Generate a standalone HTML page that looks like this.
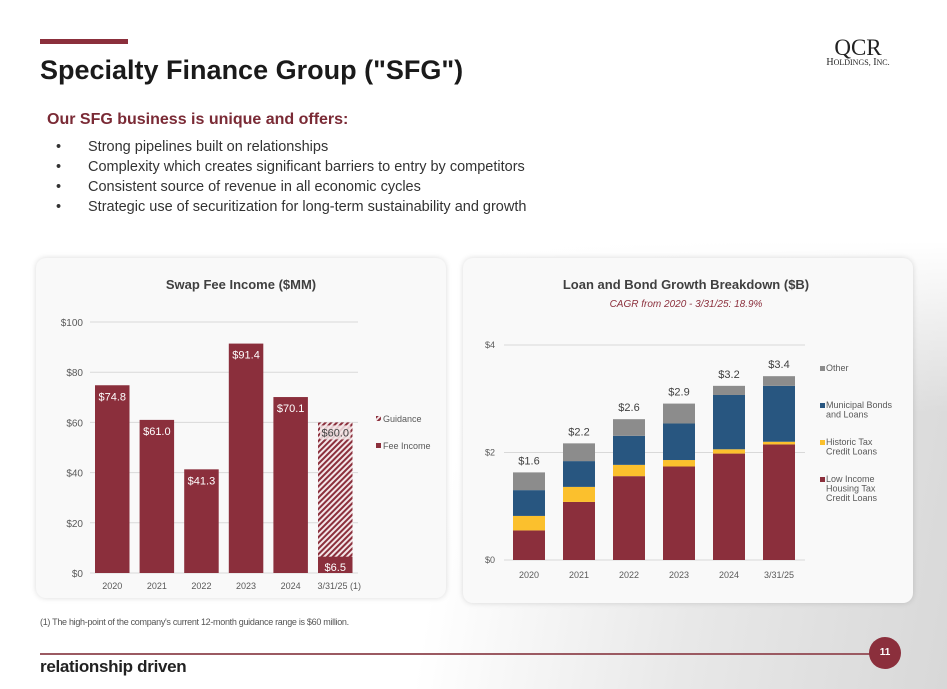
<!DOCTYPE html>
<html><head><meta charset="utf-8">
<style>
html,body{margin:0;padding:0}
body{width:947px;height:689px;position:relative;overflow:hidden;font-family:"Liberation Sans",sans-serif;background:#fff}
.bg{position:absolute;left:0;top:0;width:947px;height:689px;background:linear-gradient(180deg,rgba(255,255,255,1) 0%,rgba(255,255,255,1) 35%,rgba(255,255,255,0) 60%),linear-gradient(100deg,#fff 0%,#fff 50%,#e8e8e8 75%,#d8d8d8 100%)}
.abs{position:absolute}
.card{position:absolute;background:#f9f9f9;border-radius:10px;box-shadow:0 0 6px rgba(0,0,0,0.15)}
</style></head><body>
<div class="bg"></div>
<div class="abs" style="left:40px;top:39px;width:88px;height:5px;background:#8b2f3c"></div>
<div class="abs" style="left:40px;top:55px;font-size:27px;font-weight:bold;color:#1a1a1a">Specialty Finance Group ("SFG")</div>
<div class="abs" style="left:815px;top:37px;width:86px;text-align:center;font-family:'Liberation Serif',serif;color:#222">
<div style="font-size:23px;line-height:21px">QCR</div>
<div style="font-size:10px;line-height:10px;white-space:nowrap">H<span style="font-size:8px">OLDINGS,</span> I<span style="font-size:8px">NC.</span></div></div>
<div class="abs" style="left:47px;top:111px;font-size:16px;font-weight:bold;color:#7a2a35">Our SFG business is unique and offers:</div>
<div class="abs" style="left:56px;top:137px;font-size:14.5px;line-height:20px;color:#333">
<div>•<span style="position:absolute;left:32px;white-space:nowrap">Strong pipelines built on relationships</span></div>
<div>•<span style="position:absolute;left:32px;white-space:nowrap">Complexity which creates significant barriers to entry by competitors</span></div>
<div>•<span style="position:absolute;left:32px;white-space:nowrap">Consistent source of revenue in all economic cycles</span></div>
<div>•<span style="position:absolute;left:32px;white-space:nowrap">Strategic use of securitization for long-term sustainability and growth</span></div>
</div>
<div class="card" style="left:36px;top:258px;width:410px;height:340px"></div>
<div class="card" style="left:463px;top:258px;width:450px;height:345px"></div>
<svg class="abs" style="left:0;top:0" width="947" height="689">
<defs><pattern id="hatch" width="4" height="4" patternUnits="userSpaceOnUse" patternTransform="rotate(45)"><rect width="4" height="4" fill="#f3e6e8"/><rect width="2" height="4" fill="#8b2f3c"/></pattern></defs>
<g id="c1"></g><g id="c2"></g>
</svg>
<div class="abs" style="left:40px;top:617px;font-size:9px;color:#555;letter-spacing:-0.3px">(1) The high-point of the company's current 12-month guidance range is $60 million.</div>
<div class="abs" style="left:40px;top:653px;width:830px;height:2px;background:#9b5a62"></div>
<div class="abs" style="left:869px;top:637px;width:32px;height:32px;border-radius:50%;background:#8b2f3c;color:#fff;font-size:10px;font-weight:bold;text-align:center;line-height:32px">11</div>
<div class="abs" style="left:40px;top:657px;font-size:17px;font-weight:bold;color:#222;letter-spacing:-0.3px">relationship driven</div>
<script>
const NS='http://www.w3.org/2000/svg';
function mk(p,t,a,txt){const e=document.createElementNS(NS,t);for(const k in a)e.setAttribute(k,a[k]);if(txt!==undefined)e.textContent=txt;p.appendChild(e);return e;}
// Chart 1 data
const c1Cats=['2020','2021','2022','2023','2024','3/31/25 (1)'];
const c1Fee=[74.8,61.0,41.3,91.4,70.1,6.5];
const c1Guid=[0,0,0,0,0,60.0];
const c1Ticks=[0,20,40,60,80,100];
// Chart 2 data
const c2Cats=['2020','2021','2022','2023','2024','3/31/25'];
const c2Lihtc=[0.55,1.08,1.56,1.74,1.98,2.15];
const c2Htc=[0.27,0.28,0.21,0.12,0.08,0.05];
const c2Muni=[0.48,0.48,0.54,0.68,1.01,1.04];
const c2Other=[0.33,0.33,0.31,0.37,0.17,0.18];
const c2Totals=['$1.6','$2.2','$2.6','$2.9','$3.2','$3.4'];
const c2Ticks=[0,2,4];

const g1=document.getElementById('c1');
let t=mk(g1,'text',{x:241,y:289,'text-anchor':'middle','font-size':13,'font-weight':'bold',fill:'#404040'},'Swap Fee Income ($MM)');

const y1=v=>573-v*2.51, x1=i=>95+i*44.6, bw1=34.5;
c1Ticks.forEach(v=>{
 let l=mk(g1,'line',{x1:90,x2:358,y1:y1(v),y2:y1(v),stroke:'#d9d9d9'});
 
 let tx=mk(g1,'text',{x:83,y:y1(v)+4,'text-anchor':'end','font-size':10,fill:'#595959'},'$'+v);
 
});
c1Cats.forEach((c,i)=>{
 if(c1Guid[i]>0){
  let r=mk(g1,'rect',{x:x1(i),y:y1(c1Guid[i]),width:bw1,height:y1(0)-y1(c1Guid[i]),fill:'url(#hatch)'});
  
  let bg=mk(g1,'rect',{x:x1(i)+2,y:y1(c1Guid[i])+3,width:bw1-4,height:14,fill:'#f3e6e8',opacity:0.85});
  
  let lt=mk(g1,'text',{x:x1(i)+bw1/2,y:y1(c1Guid[i])+14,'text-anchor':'middle','font-size':11,fill:'#404040'},'$'+c1Guid[i].toFixed(1));
  
 }
 let r=mk(g1,'rect',{x:x1(i),y:y1(c1Fee[i]),width:bw1,height:y1(0)-y1(c1Fee[i]),fill:'#8b2f3c'});
 
 let lt=mk(g1,'text',{x:x1(i)+bw1/2,y:c1Fee[i]<15?y1(0)-2:y1(c1Fee[i])+15,'text-anchor':'middle','font-size':11,fill:'#fff'},'$'+c1Fee[i].toFixed(1));
 
 let xl=mk(g1,'text',{x:x1(i)+bw1/2+(i==5?4:0),y:589,'text-anchor':'middle','font-size':9,fill:'#595959'},c);
 
});
let lg=mk(g1,'g',{});
mk(lg,'rect',{x:376,y:416,width:5,height:5,fill:'url(#hatch)'});
mk(lg,'text',{x:383,y:422,'font-size':9,fill:'#595959'},'Guidance');
mk(lg,'rect',{x:376,y:443,width:5,height:5,fill:'#8b2f3c'});
mk(lg,'text',{x:383,y:449,'font-size':9,fill:'#595959'},'Fee Income');

const g2=document.getElementById('c2');
t=mk(g2,'text',{x:686,y:289,'text-anchor':'middle','font-size':13,'font-weight':'bold',fill:'#404040'},'Loan and Bond Growth Breakdown ($B)');

t=mk(g2,'text',{x:686,y:307,'text-anchor':'middle','font-size':10,'font-style':'italic',fill:'#8b2f3c'},'CAGR from 2020 - 3/31/25: 18.9%');

const y2=v=>560-v*53.75, x2=i=>513+i*50, bw2=32;
c2Ticks.forEach(v=>{
 let l=mk(g2,'line',{x1:504,x2:805,y1:y2(v),y2:y2(v),stroke:'#d9d9d9'});
 
 let tx=mk(g2,'text',{x:495,y:y2(v)+3,'text-anchor':'end','font-size':9,fill:'#595959'},'$'+v);
 
});
const series=[[c2Lihtc,'#8b2f3c','lihtc'],[c2Htc,'#fbc02d','htc'],[c2Muni,'#285680','muni'],[c2Other,'#8c8c8c','other']];
c2Cats.forEach((c,i)=>{
 let base=0;
 series.forEach(s=>{
  const v=s[0][i];
  let r=mk(g2,'rect',{x:x2(i),y:y2(base+v),width:bw2,height:y2(base)-y2(base+v),fill:s[1]});
  
  base+=v;
 });
 let tl=mk(g2,'text',{x:x2(i)+bw2/2,y:y2(base)-8,'text-anchor':'middle','font-size':11,fill:'#404040'},c2Totals[i]);
 
 let xl=mk(g2,'text',{x:x2(i)+bw2/2,y:578,'text-anchor':'middle','font-size':9,fill:'#595959'},c);
 
});
const leg=[['#8c8c8c',['Other'],371],['#285680',['Municipal Bonds','and Loans'],408],['#fbc02d',['Historic Tax','Credit Loans'],445],['#8b2f3c',['Low Income','Housing Tax','Credit Loans'],482]];
leg.forEach(L=>{
 let gg=mk(g2,'g',{});
 mk(gg,'rect',{x:820,y:L[2]-5,width:5,height:5,fill:L[0]});
 L[1].forEach((s,j)=>mk(gg,'text',{x:826,y:L[2]+j*9.5,'font-size':9,fill:'#595959'},s));
});
</script>
</body></html>
